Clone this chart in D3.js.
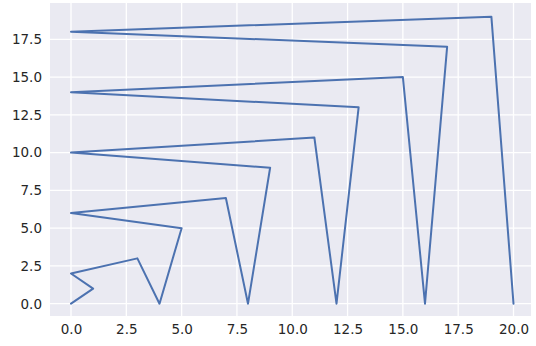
<!DOCTYPE html>
<html>
<head>
<meta charset="utf-8">
<script src="https://cdn.jsdelivr.net/npm/d3@7"></script>
<style>
  body { margin: 0; background: #fff; }
  svg { display: block; }
  .tick text { font-family: "DejaVu Sans", sans-serif; font-size: 13.5px; fill: #262626; }
</style>
</head>
<body>
<svg id="chart"></svg>
<script>
// data points of the path (visited in order)
const xValues = [0, 1, 0, 3, 4, 5, 0, 7, 8, 9, 0, 11, 12, 13, 0, 15, 16, 17, 0, 19, 20];
const yValues = [0, 1, 2, 3, 0, 5, 6, 7, 0, 9, 10, 11, 0, 13, 14, 15, 0, 17, 18, 19, 0];
const xTicks = [0, 2.5, 5, 7.5, 10, 12.5, 15, 17.5, 20];
const yTicks = [0, 2.5, 5, 7.5, 10, 12.5, 15, 17.5];

const width = 536, height = 346;
const plot = { left: 50, right: 531, top: 3, bottom: 316 };

const svg = d3.select('#chart')
    .attr('width', width)
    .attr('height', height);

const xScale = d3.scaleLinear().domain([0, 20]).range([71, 513.5]);
const yScale = d3.scaleLinear().domain([0, 17.5]).range([303.7, 39.3]);

// axes background
svg.append('rect')
    .attr('x', plot.left)
    .attr('y', plot.top)
    .attr('width', plot.right - plot.left)
    .attr('height', plot.bottom - plot.top)
    .attr('fill', '#eaeaf2');

// grid
svg.append('g')
    .selectAll('line')
    .data(xTicks)
    .enter()
    .append('line')
    .attr('x1', d => xScale(d)).attr('x2', d => xScale(d))
    .attr('y1', plot.top).attr('y2', plot.bottom)
    .attr('stroke', '#fff').attr('stroke-width', 1.3);

svg.append('g')
    .selectAll('line')
    .data(yTicks)
    .enter()
    .append('line')
    .attr('y1', d => yScale(d)).attr('y2', d => yScale(d))
    .attr('x1', plot.left).attr('x2', plot.right)
    .attr('stroke', '#fff').attr('stroke-width', 1.3);

const xAxis = d3.axisBottom(xScale)
    .tickValues(xTicks)
    .tickSize(0)
    .tickPadding(8)
    .tickFormat(d3.format('.1f'));
const yAxis = d3.axisLeft(yScale)
    .tickValues(yTicks)
    .tickSize(0)
    .tickPadding(8)
    .tickFormat(d3.format('.1f'));

svg.append('g')
    .attr('transform', `translate(0, ${plot.bottom})`)
    .call(xAxis)
    .call(g => g.select('.domain').remove());

svg.append('g')
    .attr('transform', `translate(${plot.left}, 0)`)
    .call(yAxis)
    .call(g => g.select('.domain').remove());

const line = d3.line()
    .x((d, i) => xScale(xValues[i]))
    .y((d, i) => yScale(yValues[i]));

svg.append('path')
    .datum(xValues)
    .attr('d', line)
    .attr('fill', 'none')
    .attr('stroke', '#4c72b0')
    .attr('stroke-width', 2)
    .attr('stroke-linejoin', 'round')
    .attr('stroke-linecap', 'round');
</script>
</body>
</html>
